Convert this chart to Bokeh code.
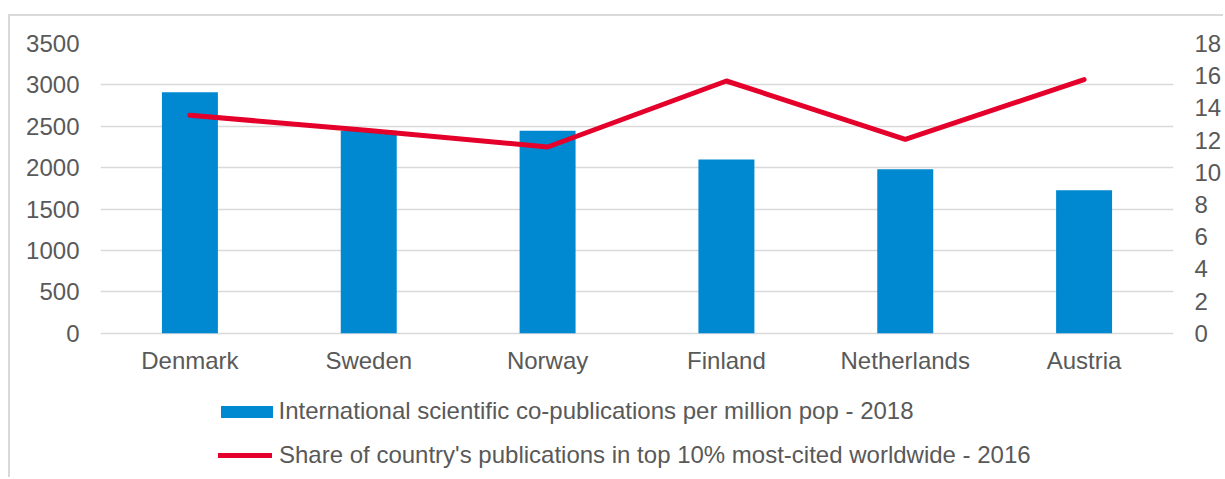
from bokeh.plotting import figure
from bokeh.models import (ColumnDataSource, Range1d, LinearAxis, FixedTicker,
                          Legend, LegendItem, FactorRange)
from bokeh.embed import file_html
from bokeh.resources import INLINE

countries = ["Denmark", "Sweden", "Norway", "Finland", "Netherlands", "Austria"]
copubs = [2910, 2445, 2445, 2100, 1980, 1727]
top10_share = [13.54, 12.6, 11.57, 15.67, 12.05, 15.76]
bar_label = "International scientific co-publications per million pop - 2018"
line_label = "Share of country's publications in top 10% most-cited worldwide - 2016"
left_ticks = [0, 500, 1000, 1500, 2000, 2500, 3000, 3500]
right_ticks = [0, 2, 4, 6, 8, 10, 12, 14, 16, 18]

FONT = "Liberation Sans"
FS = "24px"
TXT = "#595959"
BLUE = "#0088D1"
RED = "#E4002B"
GRID = "#D9D9D9"

# layout (canvas pixels)
W, H = 1215, 463
TOP, LEFT, RIGHT = 27, 90, 52
ZERO_Y = 316.7          # canvas y of the value-axis zero line
below_px = H - ZERO_Y    # room under zero line (x labels + legend)
above_px = ZERO_Y - TOP
ymax_l, ymax_r = 3500, 18
ymin_l = -ymax_l * below_px / above_px
ymin_r = -ymax_r * below_px / above_px

src = ColumnDataSource(dict(c=countries, v=copubs, s=top10_share))

p = figure(width=W, height=H, output_backend="svg", toolbar_location=None,
           x_range=FactorRange(*countries, range_padding=0),
           y_range=Range1d(ymin_l, ymax_l),
           min_border_left=LEFT, min_border_right=RIGHT, min_border_top=TOP,
           min_border_bottom=0)
p.styles = {"border-left": "2px solid #D9D9D9", "border-top": "2px solid #D9D9D9"}
p.margin = (14, 0, 0, 8)
p.outline_line_color = None
p.extra_y_ranges = {"pct": Range1d(ymin_r, ymax_r)}

bars = p.vbar(x="c", top="v", width=0.313, source=src, color=BLUE, line_color=None)
ln = p.line(x="c", y="s", source=src, y_range_name="pct", color=RED,
            line_width=5, line_cap="round", line_join="round")

p.xgrid.grid_line_color = None
p.ygrid.grid_line_color = GRID
p.ygrid.grid_line_width = 1.5
p.ygrid.ticker = FixedTicker(ticks=left_ticks)

p.yaxis.ticker = FixedTicker(ticks=left_ticks)
ax_r = LinearAxis(y_range_name="pct", ticker=FixedTicker(ticks=right_ticks))
p.add_layout(ax_r, "right")
p.xaxis.fixed_location = 0

for ax in [p.xaxis[0], p.yaxis[0], ax_r]:
    ax.axis_line_color = None
    ax.major_tick_line_color = None
    ax.minor_tick_line_color = None
    ax.major_tick_out = 0
    ax.major_tick_in = 0
    ax.major_label_text_font = FONT
    ax.major_label_text_font_size = FS
    ax.major_label_text_color = TXT
p.yaxis[0].major_label_standoff = 21
ax_r.major_label_standoff = 21
p.xaxis[0].major_label_standoff = 14

common = dict(orientation="vertical", label_text_font=FONT,
              label_text_font_size=FS, label_text_color=TXT,
              border_line_color=None, background_fill_alpha=0,
              padding=0, margin=0)
legend_bar = Legend(items=[LegendItem(label=bar_label, renderers=[bars])],
                    location=(113.5, 54), glyph_width=65, glyph_height=15,
                    label_standoff=0, **common)
legend_line = Legend(items=[LegendItem(label=line_label, renderers=[ln])],
                     location=(118, 10), glyph_width=54, glyph_height=12,
                     label_standoff=7, **common)
p.add_layout(legend_bar, "center")
p.add_layout(legend_line, "center")

open("out.html", "w").write(file_html(p, INLINE))
